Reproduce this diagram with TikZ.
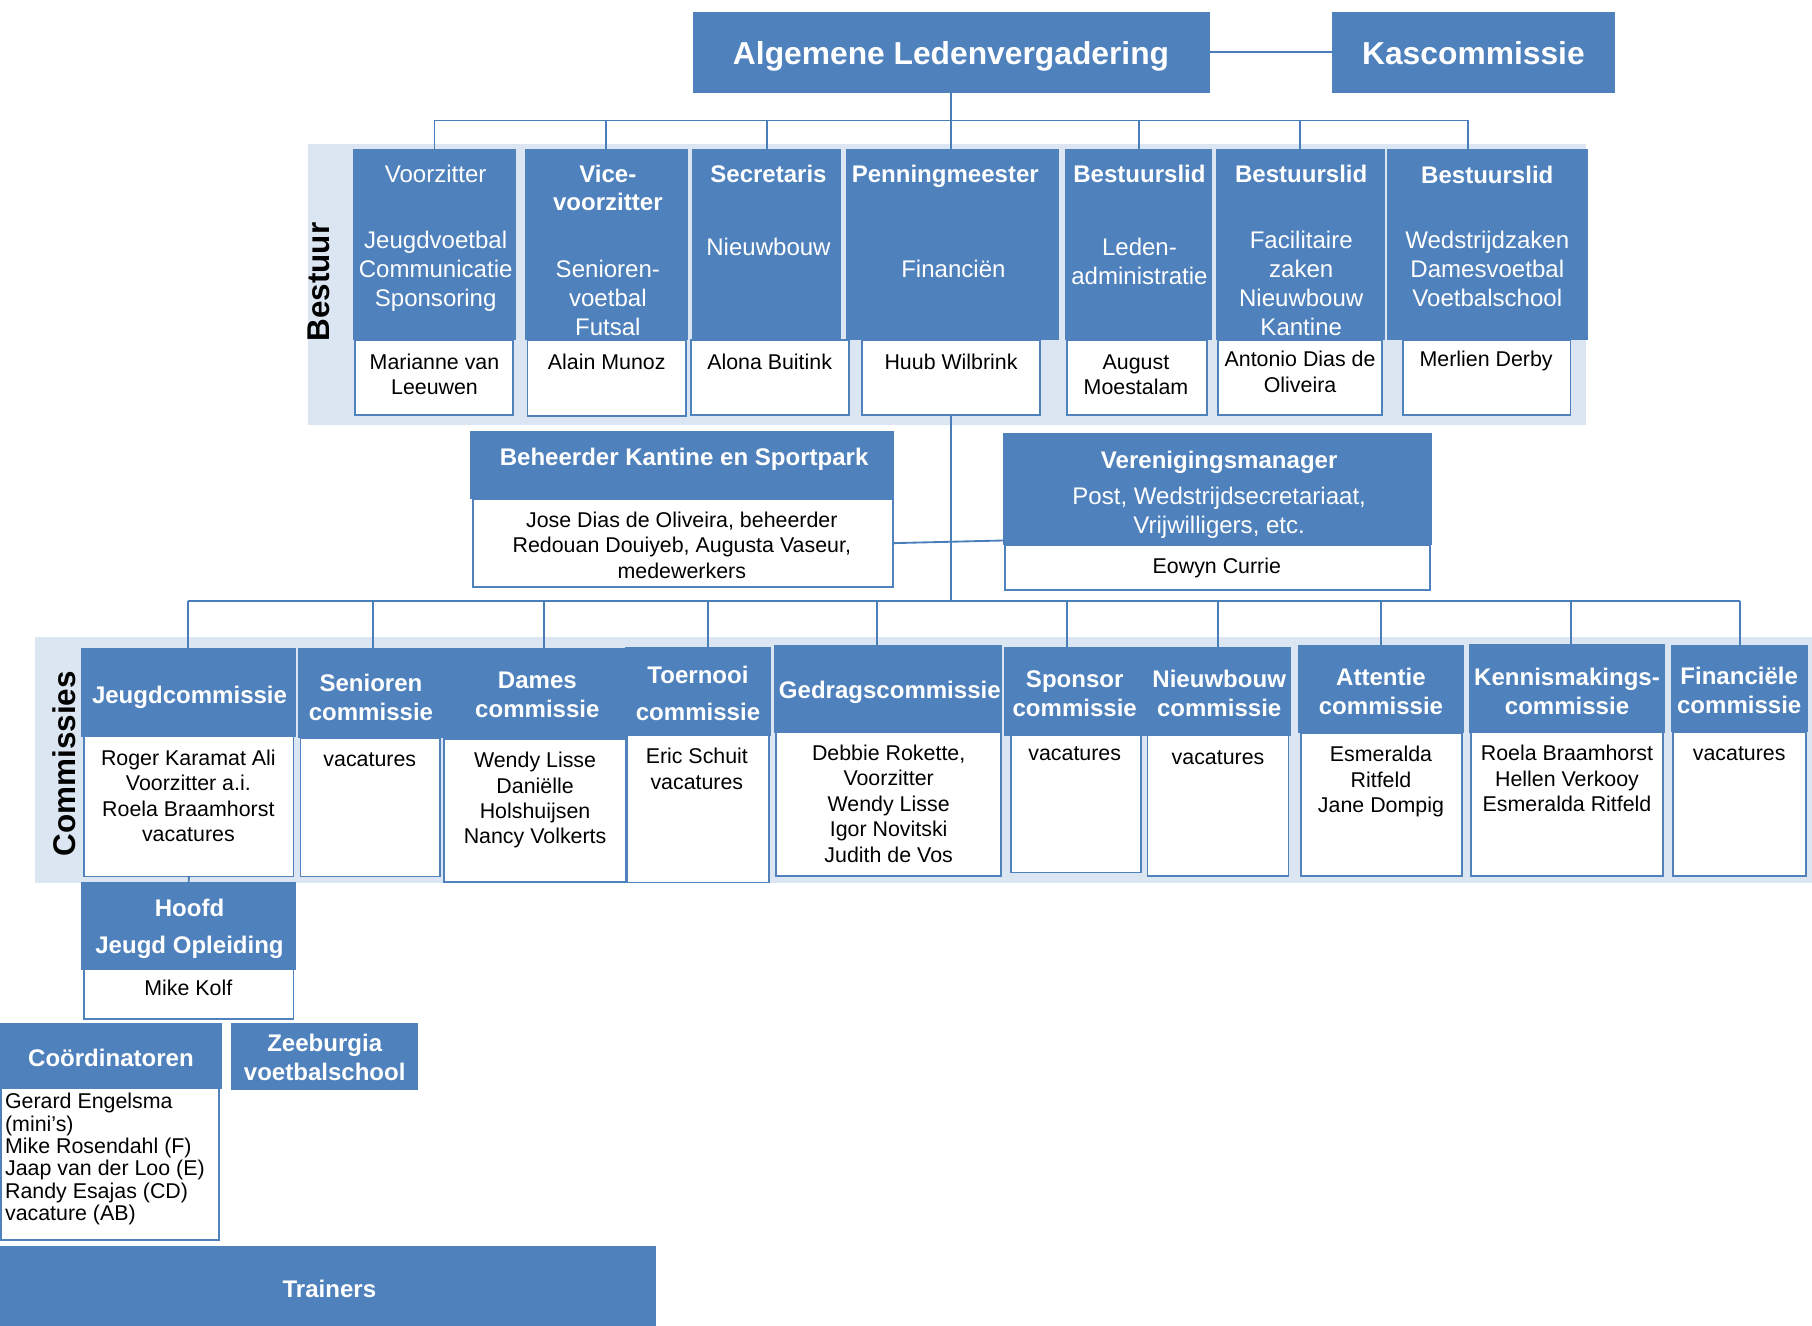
\documentclass[tikz,border=0pt]{standalone}
\usepackage{fontspec}
\setmainfont{Liberation Sans}
\usetikzlibrary{fit,calc}
\definecolor{obl}{HTML}{4F81BD}
\definecolor{lbg}{HTML}{DCE6F2}
\definecolor{lin}{HTML}{4A7EBB}
\newcommand\mlc[1]{\begin{tabular}[t]{@{}c@{}}#1\end{tabular}}
\newcommand\mll[1]{\begin{tabular}[t]{@{}l@{}}#1\end{tabular}}
\tikzset{
 bb/.style={fill=obl, draw=obl, line width=0.5pt, inner sep=0pt, outer sep=0pt},
 wb/.style={fill=white, draw=obl, line width=0.8pt, inner sep=0pt, outer sep=0pt},
 bgr/.style={fill=lbg, draw=none, inner sep=0pt, outer sep=0pt},
 conn/.style={draw=lin, line width=0.8pt},
 tl/.style={text=white, font=\fontsize{13.75}{16}\selectfont\bfseries, inner sep=0pt, anchor=base},
 hd/.style={text=white, font=\fontsize{10.4}{12.5}\selectfont\bfseries, inner sep=0pt, anchor=base},
 hdw/.style={hd, font=\fontsize{10.4}{16}\selectfont\bfseries},
 hr/.style={text=white, font=\fontsize{10.4}{12.5}\selectfont, inner sep=0pt, anchor=base},
 bd/.style={text=black, font=\fontsize{9.25}{11}\selectfont, inner sep=0pt, anchor=base},
 side/.style={text=black, font=\fontsize{13.6}{16}\selectfont\bfseries, rotate=90, inner sep=0pt, anchor=center},
}
\newcommand\mybox[6]{\node[#1, fit={(#3,#4) (#5,#6)}] (#2) {};}
\begin{document}
\begin{tikzpicture}[x=0.5pt,y=-0.5pt]
\useasboundingbox (0,0) rectangle (1568,1147);
% backgrounds
\mybox{bgr}{bestbg}{266.5}{124.5}{1372}{368}
\mybox{bgr}{combg}{30}{550.9}{1568}{763.7}
\node[side] (lbest) at (276,244) {Bestuur};
\node[side] (lcom) at (56,661) {Commissies};
% top
\mybox{bb}{alv}{600}{10.5}{1046.5}{80}
\mybox{bb}{kas}{1153}{10.5}{1397}{80}
\node[tl] (talv) at (823,56) {Algemene Ledenvergadering};
\node[tl] (tkas) at (1275,56) {Kascommissie};
% coordinates
\coordinate (tb) at (0,104.3);
\coordinate (d3) at (1270.5,129);
\coordinate (cb) at (0,519.8);
% bestuur boxes
\mybox{bb}{vz}{306}{129}{446}{294}
\mybox{bb}{vc}{454.5}{129}{595}{294}
\mybox{bb}{sc}{599.5}{129}{727.5}{294}
\mybox{bb}{pm}{732.5}{129}{915.5}{294}
\mybox{bb}{ba}{922.5}{129}{1048}{294}
\mybox{bb}{bf}{1052.5}{129}{1198}{294}
\mybox{bb}{bw}{1201}{129}{1374}{294}
% connectors top
\draw[conn] (kas.west) -- (alv.east);
\draw[conn] (alv.south) -- (alv.south |- pm.north);
\draw[conn] (vz.north) |- (d3 |- tb) -- (d3);
\draw[conn] (vc.north) -- (vc.north |- tb);
\draw[conn] (sc.north) -- (sc.north |- tb);
\draw[conn] (ba.north) -- (ba.north |- tb);
\draw[conn] (bf.north) -- (bf.north |- tb);
\mybox{wb}{vzw}{307.5}{294}{444}{359}
\mybox{wb}{vcw}{456.5}{294}{593.5}{360}
\mybox{wb}{scw}{598}{294}{734.5}{359}
\mybox{wb}{pmw}{746}{294}{900}{359}
\mybox{wb}{baw}{923.5}{294}{1044.5}{359}
\mybox{wb}{bfw}{1054}{294}{1196}{359}
\mybox{wb}{bww}{1214}{294}{1359}{359}
\node[hr] (t1) at (377,158) {Voorzitter};
\node[hr] (t1b) at (377,215) {\mlc{Jeugdvoetbal\\Communicatie\\Sponsoring}};
\node[bd] (t1c) at (376,319.5) {\mlc{Marianne van\\Leeuwen}};
\node[hd, font=\fontsize{10.4}{12}\selectfont\bfseries] (t2) at (526,158) {\mlc{Vice-\\voorzitter}};
\node[hr] (t2b) at (526,240) {\mlc{Senioren-\\voetbal\\Futsal}};
\node[bd] (t2c) at (525,319.5) {Alain Munoz};
\node[hd] (t3) at (665,158) {Secretaris};
\node[hr] (t3b) at (665,221) {Nieuwbouw};
\node[bd] (t3c) at (666,319.5) {Alona Buitink};
\node[hd] (t4) at (818,158) {Penningmeester};
\node[hr] (t4b) at (825,240) {Financiën};
\node[bd] (t4c) at (823,319.5) {Huub Wilbrink};
\node[hd] (t5) at (986,158) {Bestuurslid};
\node[hr] (t5b) at (986,221) {\mlc{Leden-\\administratie}};
\node[bd] (t5c) at (983,319.5) {\mlc{August\\Moestalam}};
\node[hd] (t6) at (1126,158) {Bestuurslid};
\node[hr] (t6b) at (1126,215) {\mlc{Facilitaire\\zaken\\Nieuwbouw\\Kantine}};
\node[bd] (t6c) at (1125,317.5) {\mlc{Antonio Dias de\\Oliveira}};
\node[hd] (t7) at (1287,159) {Bestuurslid};
\node[hr] (t7b) at (1287,215) {\mlc{Wedstrijdzaken\\Damesvoetbal\\Voetbalschool}};
\node[bd] (t7c) at (1286,317.5) {Merlien Derby};
% middle
\mybox{bb}{bh}{407.5}{373.5}{773.5}{431.7}
\mybox{wb}{bhw}{409}{431.7}{772.5}{508.3}
\mybox{bb}{vm}{868}{374.9}{1239}{471.4}
\mybox{wb}{vmw}{870}{471.4}{1237.5}{510.3}
\draw[conn] (pmw.south) -- (pmw.south |- cb);
\draw[conn] (bhw.east) -- ([yshift=1.85pt]vm.south west);
\node[hd] (tbh) at (592,402.5) {Beheerder Kantine en Sportpark};
\node[bd] (tbhb) at (590,456.5) {\mlc{Jose Dias de Oliveira, beheerder\\Redouan Douiyeb, Augusta Vaseur,\\medewerkers}};
\node[hd] (tvm) at (1055,405) {Verenigingsmanager};
\node[hr] (tvmb) at (1055,436.5) {\mlc{Post, Wedstrijdsecretariaat,\\Vrijwilligers, etc.}};
\node[bd] (tvmc) at (1053,496) {Eowyn Currie};
% commissions bus
\coordinate (k1) at (163,519.8);
\coordinate (k2) at (322.5,519.8);
\coordinate (k3) at (470.5,519.8);
\coordinate (k4) at (612.5,519.8);
\coordinate (k5) at (759,519.8);
\coordinate (k6) at (923,519.8);
\coordinate (k7) at (1054,519.8);
\coordinate (k8) at (1195,519.8);
\coordinate (k9) at (1359.5,519.8);
\coordinate (k10) at (1505.5,519.8);
\mybox{bb}{jc}{71}{561.5}{255.5}{637}
\mybox{bb}{sn}{258.5}{561}{382.5}{638.4}
\mybox{bb}{dm}{384}{561}{542.5}{639.3}
\mybox{bb}{tn}{541.5}{560}{666.5}{636.4}
\mybox{bb}{gd}{670}{559}{866.5}{633.5}
\mybox{bb}{sp}{869}{560}{990.5}{636.4}
\mybox{bb}{nb}{991.5}{560}{1116.5}{636.4}
\mybox{bb}{at}{1124}{558.7}{1266}{634}
\mybox{bb}{km}{1271.5}{558}{1440.5}{633.5}
\mybox{bb}{fn}{1446.5}{558.7}{1564}{633.3}
\draw[conn] (k1) -- (k10);
\draw[conn] (k1) -- (k1 |- jc.north);
\draw[conn] (k2) -- (k2 |- sn.north);
\draw[conn] (k3) -- (k3 |- dm.north);
\draw[conn] (k4) -- (k4 |- tn.north);
\draw[conn] (k5) -- (k5 |- gd.north);
\draw[conn] (k6) -- (k6 |- sp.north);
\draw[conn] (k7) -- (k7 |- nb.north);
\draw[conn] (k8) -- (k8 |- at.north);
\draw[conn] (k9) -- (k9 |- km.north);
\draw[conn] (k10) -- (k10 |- fn.north);
\mybox{wb}{jcw}{73}{637}{254}{758.5}
\mybox{wb}{snw}{260}{638.4}{381}{758.5}
\mybox{wb}{dmw}{384.5}{639.3}{541.5}{763}
\mybox{wb}{tnw}{542.5}{636.4}{665.5}{763.7}
\mybox{wb}{gdw}{671.5}{633.5}{866.5}{758}
\mybox{wb}{spw}{874.5}{636.4}{987}{755}
\mybox{wb}{nbw}{993}{636.4}{1115}{758}
\mybox{wb}{atw}{1125.5}{634}{1265}{758}
\mybox{wb}{kmw}{1273}{633.5}{1439}{758}
\mybox{wb}{fnw}{1448}{633.3}{1562.5}{758}
\node[hd] (c1) at (164,608.5) {Jeugdcommissie};
\node[bd] (c1b) at (163,662.2) {\mlc{Roger Karamat Ali\\Voorzitter a.i.\\Roela Braamhorst\\vacatures}};
\node[hd] (c2) at (321,598.4) {\mlc{Senioren\\commissie}};
\node[bd] (c2b) at (320,663) {vacatures};
\node[hd] (c3) at (465,595.5) {\mlc{Dames\\commissie}};
\node[bd] (c3b) at (463,664.2) {\mlc{Wendy Lisse\\Daniëlle\\Holshuijsen\\Nancy Volkerts}};
\node[hdw] (c4) at (604,591.2) {\mlc{Toernooi\\commissie}};
\node[bd] (c4b) at (603,660.8) {\mlc{Eric Schuit\\vacatures}};
\node[hd] (c5) at (770,604.2) {Gedragscommissie};
\node[bd] (c5b) at (769,658) {\mlc{Debbie Rokette,\\Voorzitter\\Wendy Lisse\\Igor Novitski\\Judith de Vos}};
\node[hd] (c6) at (930,595) {\mlc{Sponsor\\commissie}};
\node[bd] (c6b) at (930,658) {vacatures};
\node[hd] (c7) at (1055,595) {\mlc{Nieuwbouw\\commissie}};
\node[bd] (c7b) at (1054,661.4) {vacatures};
\node[hd] (c8) at (1195,593.2) {\mlc{Attentie\\commissie}};
\node[bd] (c8b) at (1195,659.3) {\mlc{Esmeralda\\Ritfeld\\Jane Dompig}};
\node[hd] (c9) at (1356,593.2) {\mlc{Kennismakings-\\commissie}};
\node[bd] (c9b) at (1356,658.5) {\mlc{Roela Braamhorst\\Hellen Verkooy\\Esmeralda Ritfeld}};
\node[hd] (c10) at (1505,592) {\mlc{Financiële\\commissie}};
\node[bd] (c10b) at (1505,658.5) {vacatures};
% lower
\mybox{bb}{hj}{71}{763.8}{255.5}{838.7}
\mybox{wb}{hjw}{72.5}{838.7}{254}{881.6}
\draw[conn] (jcw.south) -- (hj.north);
\node[hdw] (thj) at (164,793.5) {\mlc{Hoofd\\Jeugd Opleiding}};
\node[bd] (thjb) at (163,861.5) {Mike Kolf};
\mybox{bb}{co}{0}{886}{191.5}{941.8}
\mybox{wb}{cow}{1}{941.8}{189.5}{1073}
\node[hd] (tco) at (96,923) {Coördinatoren};
\node[bd, anchor=base west, font=\fontsize{9.25}{9.65}\selectfont] (tcob) at (4,959.5) {\mll{Gerard Engelsma\\(mini’s)\\Mike Rosendahl (F)\\Jaap van der Loo (E)\\Randy Esajas (CD)\\vacature (AB)}};
\mybox{bb}{zb}{200}{885.3}{361}{942.4}
\node[hd] (tzb) at (281,910) {\mlc{Zeeburgia\\voetbalschool}};
\mybox{bb}{tr}{0}{1078.3}{567.5}{1150}
\node[hd] (ttr) at (285,1122.7) {Trainers};
\end{tikzpicture}
\end{document}
